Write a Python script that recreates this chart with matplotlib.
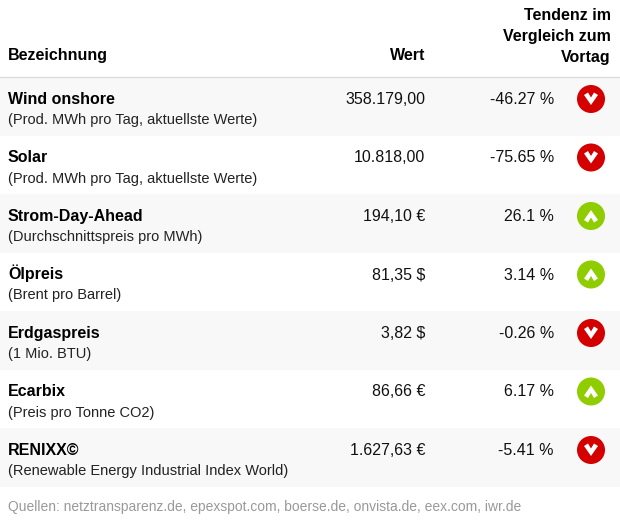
import matplotlib
matplotlib.use("Agg")
import matplotlib.pyplot as plt
from matplotlib.patches import Circle, Polygon, Rectangle

names = ["Wind onshore", "Solar", "Strom-Day-Ahead", "Ölpreis", "Erdgaspreis", "Ecarbix", "RENIXX©"]
subs = ["(Prod. MWh pro Tag, aktuellste Werte)", "(Prod. MWh pro Tag, aktuellste Werte)",
        "(Durchschnittspreis pro MWh)", "(Brent pro Barrel)", "(1 Mio. BTU)",
        "(Preis pro Tonne CO2)", "(Renewable Energy Industrial Index World)"]
values = ["358.179,00", "10.818,00", "194,10 €", "81,35 $", "3,82 $", "86,66 €", "1.627,63 €"]
changes = [-46.27, -75.65, 26.1, 3.14, -0.26, 6.17, -5.41]
change_labels = ["-46.27 %", "-75.65 %", "26.1 %", "3.14 %", "-0.26 %", "6.17 %", "-5.41 %"]
source = "Quellen: netztransparenz.de, epexspot.com, boerse.de, onvista.de, eex.com, iwr.de"

plt.rcParams["font.family"] = "Liberation Sans"
W, H = 620, 521
fig = plt.figure(figsize=(W/100, H/100), dpi=100)
ax = fig.add_axes([0, 0, 1, 1])
ax.set_xlim(0, W); ax.set_ylim(H, 0); ax.axis("off")

ax.text(8, 60, "Bezeichnung", fontsize=11.5, fontweight="bold", va="baseline")
ax.text(425, 60, "Wert", fontsize=11.5, fontweight="bold", va="baseline", ha="right")
for i, t in enumerate(["Tendenz im", "Vergleich zum", "Vortag"]):
    ax.text(611, 20 + i*21, t, fontsize=11.5, fontweight="bold", va="baseline", ha="right")
ax.plot([0, W], [77, 77], color="#dddddd", lw=1)

top, rh = 77, 58.5
for i in range(len(names)):
    y0 = top + i*rh
    if i % 2 == 0:
        ax.add_patch(Rectangle((0, y0), W, rh, color="#f8f8f8", lw=0))
    ax.text(8, y0 + 27, names[i], fontsize=11.5, fontweight="bold", va="baseline")
    ax.text(8, y0 + 47, subs[i], fontsize=10.5, va="baseline", color="#222222")
    ax.text(425, y0 + 27, values[i], fontsize=11.5, va="baseline", ha="right", color="#111111")
    ax.text(554, y0 + 27, change_labels[i], fontsize=11.5, va="baseline", ha="right", color="#111111")
    cx, cy = 591, y0 + 22
    up = changes[i] > 0
    ax.add_patch(Circle((cx, cy), 14, color="#8fcc00" if up else "#d40000", lw=0))
    s = -1 if up else 1
    pts = [(cx-7, cy - s*4), (cx-3, cy - s*6.5), (cx, cy - s*1.5), (cx+3, cy - s*6.5),
           (cx+7, cy - s*4), (cx, cy + s*6)]
    ax.add_patch(Polygon(pts, closed=True, color="white", lw=0))

ax.text(8, 511, source, fontsize=10, color="#999999", va="baseline")
fig.savefig("out.png", dpi=100)
